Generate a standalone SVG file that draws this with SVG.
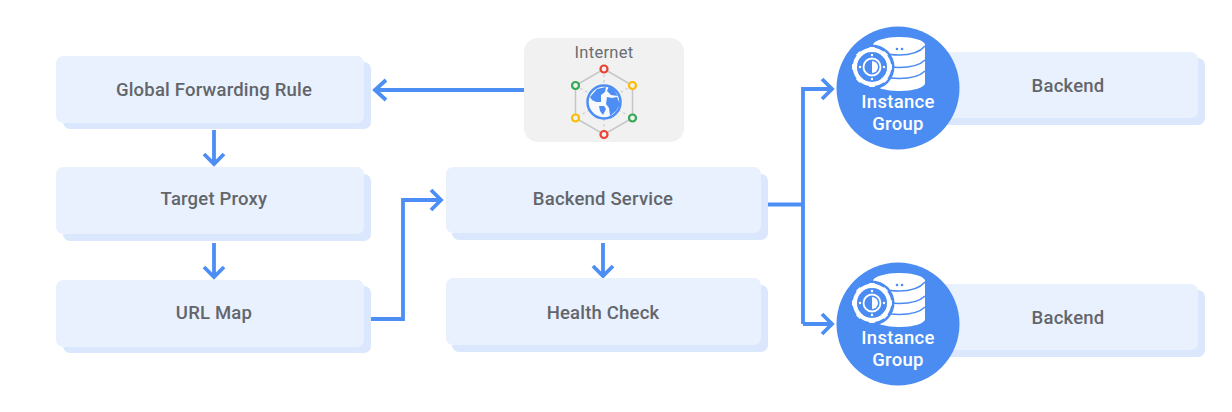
<svg xmlns="http://www.w3.org/2000/svg" width="1232" height="412" viewBox="0 0 1232 412">
<style>
.back{fill:#dbe7fc}
.front{fill:#eaf1fe}
.lbl{font-family:"Roboto","Liberation Sans",sans-serif;font-weight:500;font-size:18.5px;fill:#62666b;text-anchor:middle;letter-spacing:.2px}
.conn{fill:none;stroke:#4d8ef5;stroke-width:3.8}
.ig{font-family:"Roboto","Liberation Sans",sans-serif;font-weight:500;font-size:18.5px;fill:#fff;text-anchor:middle;letter-spacing:.3px}
.w{fill:#fff}
.hex{fill:none;stroke:#c4c6c8;stroke-width:1.5}
.dash{stroke:#c8cacc;stroke-width:1.2;stroke-dasharray:2.5 3}
.dot{fill:#f1f1f1;stroke-width:2.2}
</style>
<defs>
<g id="igIcon">
<circle cx="0" cy="0" r="61.500" fill="#4b8cf2"/>
<path class="w" d="M-25-43C-25-48-10-51 1-51C14-51 27-48 27-43V-5C27 0 14 3 1 3C-10 3-25 0-25-5Z"/>
<path d="M-25-42C-15-30 17-30 27-42M-25-28C-15-18 17-18 27-28M-25-17C-15-7 17-7 27-17" fill="none" stroke="#4b8cf2" stroke-width="1.5"/>
<circle cx="-1" cy="-39" r="1.300" fill="#4b8cf2"/><circle cx="4" cy="-39" r="1.300" fill="#4b8cf2"/>
<circle cx="-26" cy="-21" r="22.500" fill="#4b8cf2"/>
<circle cx="-26" cy="-21" r="17" fill="none" stroke="#fff" stroke-width="4.500"/>
<path d="M-26-41V-1M-46-21H-6M-40.100-35.100L-11.900-6.900M-11.900-35.100L-40.100-6.900" stroke="#fff" stroke-width="5.500"/>
<circle cx="-26" cy="-21" r="15" fill="#4b8cf2"/>
<circle cx="-26" cy="-21" r="8.500" fill="none" stroke="#fff" stroke-width="1.800"/>
<path class="w" d="M-26-27a6 6 0 0 1 0 12Z"/>
<g class="w"><circle cx="-26" cy="-33" r="1.200"/><circle cx="-26" cy="-9" r="1.200"/><circle cx="-38" cy="-21" r="1.200"/><circle cx="-14" cy="-21" r="1.200"/></g>
</g>
</defs>
<rect width="1232" height="412" fill="#fff"/>
<g id="connectors">
<path class="conn" d="M524 90H378M386 80L375 90L386 100"/>
<path class="conn" d="M214 130V163M204 154L214 164L224 154"/>
<path class="conn" d="M214 243V276M204 267L214 277L224 267"/>
<path class="conn" d="M371 319H403V200H440M431 190L441 200L431 210"/>
<path class="conn" d="M603 243V274M593 266L603 276L613 266"/>
<path class="conn" d="M767 204.500H803M803 324V89H830M822 79L832 89L822 99"/>
<path class="conn" d="M803 324H830M822 314L832 324L822 334"/>
</g>
<g id="global-forwarding-rule"><rect class="back" x="63" y="62" width="308" height="67" rx="7"/><rect class="front" x="56" y="56" width="308" height="67" rx="7"/><text class="lbl" x="214" y="96">Global Forwarding Rule</text></g>
<g id="target-proxy"><rect class="back" x="63" y="174" width="308" height="67" rx="7"/><rect class="front" x="56" y="167" width="308" height="67" rx="7"/><text class="lbl" x="214" y="205">Target Proxy</text></g>
<g id="url-map"><rect class="back" x="63" y="286" width="308" height="67" rx="7"/><rect class="front" x="56" y="280" width="308" height="67" rx="7"/><text class="lbl" x="214" y="319">URL Map</text></g>
<g id="backend-service"><rect class="back" x="452" y="174" width="316" height="66" rx="7"/><rect class="front" x="446" y="167" width="315" height="66" rx="7"/><text class="lbl" x="603" y="205">Backend Service</text></g>
<g id="health-check"><rect class="back" x="452" y="285" width="316" height="67" rx="7"/><rect class="front" x="446" y="278" width="315" height="67" rx="7"/><text class="lbl" x="603" y="319">Health Check</text></g>
<g id="internet">
<rect x="524" y="38" width="160" height="104" rx="14" fill="#f1f1f1"/>
<text x="604" y="58" font-family="Roboto,'Liberation Sans',sans-serif" font-size="16.500" fill="#6a6d71" text-anchor="middle" letter-spacing=".3">Internet</text>
<path class="hex" d="M604 69L632.500 85.500V118L604 134.500L575.500 118V85.500Z"/>
<path class="dash" d="M604 69V134.500M575.500 85.500L632.500 118M632.500 85.500L575.500 118"/>
<g transform="translate(604 102)">
<circle r="16.500" fill="#f7f9fd" stroke="#4d8ef5" stroke-width="2.500"/>
<path fill="#4d8ef5" d="M-14-5L-7-13L2-15L1-10L-3-7L-3 0L-8 0L-12-2ZM-5 4L0 4L2 7L-1 13L-4 9ZM5-16L10-12L14-6L7-7L3-11ZM3-5L8-4L13-5L16 2L12 9L6 14L5 6L2 2Z"/>
</g>
<g class="dot"><circle cx="604" cy="69" r="3.500" stroke="#ea4335"/><circle cx="632.500" cy="85.500" r="3.500" stroke="#fbbc04"/><circle cx="632.500" cy="118" r="3.500" stroke="#34a853"/><circle cx="604" cy="134.500" r="3.500" stroke="#ea4335"/><circle cx="575.500" cy="118" r="3.500" stroke="#fbbc04"/><circle cx="575.500" cy="85.500" r="3.500" stroke="#34a853"/></g>
</g>
<g id="backend-1"><rect class="back" x="900" y="58" width="305" height="67" rx="7"/><rect class="front" x="900" y="52" width="298" height="66" rx="7"/><text class="lbl" x="1068" y="92">Backend</text></g>
<g id="backend-2"><rect class="back" x="900" y="290" width="305" height="67" rx="7"/><rect class="front" x="900" y="284" width="298" height="66" rx="7"/><text class="lbl" x="1068" y="324">Backend</text></g>
<g id="instance-group-1"><use href="#igIcon" transform="translate(898 88)"/><text class="ig" x="898" y="108">Instance</text><text class="ig" x="898" y="130">Group</text></g>
<g id="instance-group-2"><use href="#igIcon" transform="translate(898 324)"/><text class="ig" x="898" y="344">Instance</text><text class="ig" x="898" y="366">Group</text></g>
</svg>
